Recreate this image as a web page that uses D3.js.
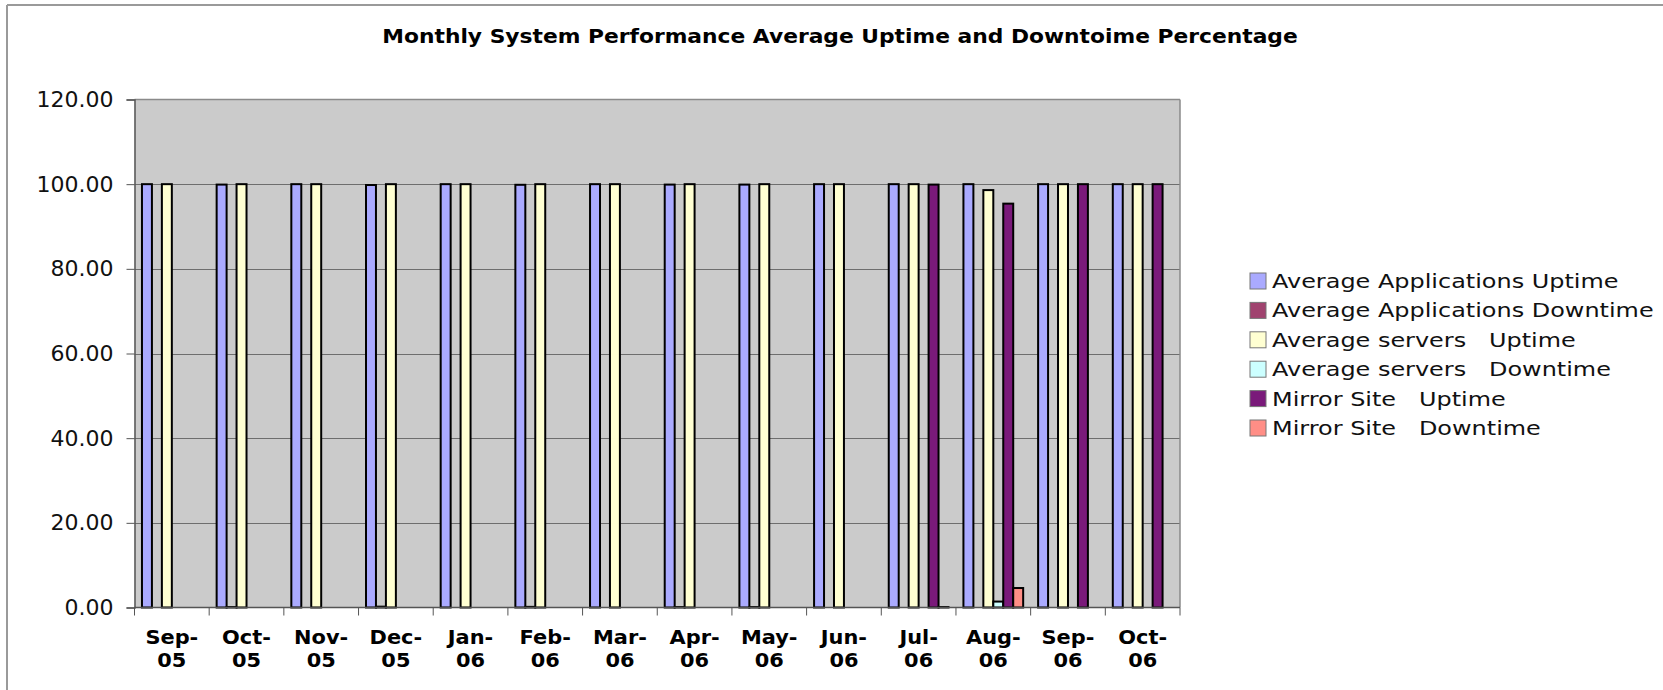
<!DOCTYPE html>
<html>
<head>
<meta charset="utf-8">
<script src="https://cdn.jsdelivr.net/npm/d3@7"></script>
<style>
  html, body { margin: 0; padding: 0; background: #ffffff; }
  svg { display: block; }
</style>
</head>
<body>
<svg id="chart" width="1663" height="690"></svg>
<script>
// ---------------- data ----------------
const categories = ["Sep-05","Oct-05","Nov-05","Dec-05","Jan-06","Feb-06","Mar-06",
                    "Apr-06","May-06","Jun-06","Jul-06","Aug-06","Sep-06","Oct-06"];
const seriesNames = ["Average Applications Uptime","Average Applications Downtime",
                     "Average servers   Uptime","Average servers   Downtime",
                     "Mirror Site   Uptime","Mirror Site   Downtime"];
const appUptime      = [100, 99.9, 100, 99.8, 100, 99.85, 100, 99.9, 99.9, 100, 100, 100, 100, 100];
const appDowntime    = [null, 0.1, null, 0.2, null, 0.15, null, 0.1, 0.1, null, null, null, null, null];
const serversUptime  = [100, 100, 100, 100, 100, 100, 100, 100, 100, 100, 100, 98.6, 100, 100];
const serversDowntime= [null, null, null, null, null, null, null, null, null, null, null, 1.4, null, null];
const mirrorUptime   = [null, null, null, null, null, null, null, null, null, null, 99.9, 95.4, 100, 100];
const mirrorDowntime = [null, null, null, null, null, null, null, null, null, null, 0.1, 4.6, null, null];
const yTicks = [0, 20, 40, 60, 80, 100, 120];
const colors = ["#AAAAFF", "#A0436F", "#FFFFD2", "#CCFFFF", "#7A1A7A", "#FF8E86"];
const title = "Monthly System Performance Average Uptime and Downtoime Percentage";

const seriesValues = [appUptime, appDowntime, serversUptime, serversDowntime, mirrorUptime, mirrorDowntime];

// ---------------- layout ----------------
const svg = d3.select("#chart");
const plot = { left: 134.5, right: 1180, top: 99.5, bottom: 607.5 };
const FONT = "'DejaVu Sans', Verdana, sans-serif";

// outer frame
svg.append("line").attr("x1", 7).attr("y1", 5).attr("x2", 1663).attr("y2", 5)
  .attr("stroke", "#9a9a9a").attr("stroke-width", 2);
svg.append("line").attr("x1", 7).attr("y1", 5).attr("x2", 7).attr("y2", 690)
  .attr("stroke", "#9a9a9a").attr("stroke-width", 2);

// scales
const x0 = d3.scaleBand().domain(categories).range([plot.left, plot.right]).padding(0);
const x1 = d3.scaleBand().domain(seriesNames).range([0, x0.bandwidth()])
  .paddingInner(0).paddingOuter(0.75);
const y = d3.scaleLinear().domain([0, 120]).range([plot.bottom, plot.top]);

// plot background
svg.append("rect").attr("x", plot.left).attr("y", plot.top)
  .attr("width", plot.right - plot.left).attr("height", plot.bottom - plot.top)
  .attr("fill", "#CBCBCB");

// gridlines
svg.append("g").selectAll("line").data(yTicks.filter(d => d > 0 && d < 120)).join("line")
  .attr("x1", plot.left).attr("x2", plot.right)
  .attr("y1", d => Math.round(y(d)) + 0.5).attr("y2", d => Math.round(y(d)) + 0.5)
  .attr("stroke", "#6e6e6e").attr("stroke-width", 1);

// plot border top & right
svg.append("line").attr("x1", plot.left).attr("x2", plot.right)
  .attr("y1", plot.top).attr("y2", plot.top).attr("stroke", "#8a8a8a").attr("stroke-width", 1.5);
svg.append("line").attr("x1", plot.right).attr("x2", plot.right)
  .attr("y1", plot.top).attr("y2", plot.bottom).attr("stroke", "#8a8a8a").attr("stroke-width", 1.5);

// bars
const barData = [];
categories.forEach((c, i) => {
  seriesNames.forEach((s, j) => {
    const v = seriesValues[j][i];
    if (v !== null && v !== undefined) barData.push({ c, s, v, j });
  });
});
svg.append("g").selectAll("rect").data(barData).join("rect")
  .attr("x", d => x0(d.c) + x1(d.s))
  .attr("y", d => y(d.v))
  .attr("width", x1.bandwidth())
  .attr("height", d => Math.max(0, y(0) - y(d.v)))
  .attr("fill", d => colors[d.j])
  .attr("stroke", "#000").attr("stroke-width", 2);

// y axis
const yAxis = d3.axisLeft(y).tickValues(yTicks).tickSize(8).tickPadding(6)
  .tickFormat(d3.format(".2f"));
const gy = svg.append("g").attr("transform", `translate(${plot.left},0)`).call(yAxis);
gy.select(".domain").attr("stroke", "#555").attr("stroke-width", 1.5);
gy.selectAll(".tick line").attr("stroke", "#555");
gy.selectAll(".tick text").attr("font-family", FONT).attr("font-size", 22)
  .attr("fill", "#111").attr("dx", -7);

// x axis (ticks at category boundaries)
const xb = categories.map(c => x0(c)).concat([plot.right]);
const gx = svg.append("g");
gx.append("line").attr("x1", plot.left).attr("x2", plot.right)
  .attr("y1", plot.bottom).attr("y2", plot.bottom).attr("stroke", "#555").attr("stroke-width", 1.5);
gx.selectAll("line.t").data(xb).join("line").attr("class", "t")
  .attr("x1", d => d).attr("x2", d => d)
  .attr("y1", plot.bottom).attr("y2", plot.bottom + 8).attr("stroke", "#555");
const xl = gx.selectAll("g.lab").data(categories).join("g").attr("class", "lab")
  .attr("transform", d => `translate(${x0(d) + x0.bandwidth() / 2},0) scale(1.1,1)`);
xl.append("text").attr("y", 644).attr("text-anchor", "middle")
  .attr("font-family", FONT).attr("font-weight", "bold").attr("font-size", 19).attr("fill", "#000")
  .text(d => d.split("-")[0] + "-");
xl.append("text").attr("y", 667).attr("text-anchor", "middle")
  .attr("font-family", FONT).attr("font-weight", "bold").attr("font-size", 19).attr("fill", "#000")
  .text(d => d.split("-")[1]);

// title
svg.append("g").attr("transform", "translate(840,43) scale(1.09,1)")
  .append("text").attr("text-anchor", "middle")
  .attr("font-family", FONT).attr("font-weight", "bold").attr("font-size", 20).attr("fill", "#000")
  .text(title);

// legend
const legend = svg.append("g").attr("transform", "translate(1250,0)");
const ly = d3.scaleLinear().domain([0, 5]).range([281, 428]);
const li = legend.selectAll("g").data(seriesNames).join("g")
  .attr("transform", (d, i) => `translate(0,${ly(i)})`);
li.append("rect").attr("x", 0).attr("y", -8).attr("width", 16).attr("height", 16)
  .attr("fill", (d, i) => colors[i]).attr("stroke", "#777").attr("stroke-width", 1);
li.append("g").attr("transform", "translate(22,0) scale(1.26,1)")
  .append("text").attr("y", 7).attr("font-family", FONT).attr("font-size", 19)
  .attr("fill", "#111").style("white-space", "pre").attr("xml:space", "preserve")
  .text(d => d);
</script>
</body>
</html>
